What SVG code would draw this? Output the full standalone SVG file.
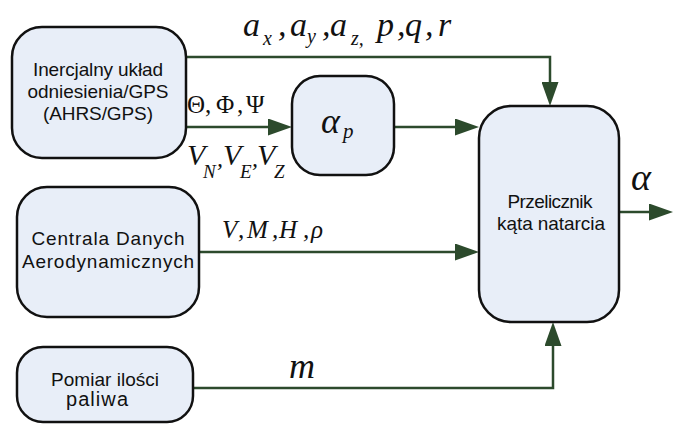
<svg xmlns="http://www.w3.org/2000/svg" width="673" height="424" viewBox="0 0 673 424">
  <style>
    .box { fill: #e8eef8; stroke: #111; stroke-width: 2.5; }
    .lbl { font-family: "Liberation Sans", Arial, sans-serif; font-size: 19px; fill: #111; text-anchor: middle; }
    .conn { fill: none; stroke: #2c4a2c; stroke-width: 2.5; marker-end: url(#arrow); }
    .m { font-family: "Liberation Serif", "Times New Roman", serif; font-style: italic; font-size: 30px; fill: #111; }
    .s { font-size: 20px; }
    .up { font-family: "Liberation Serif", "Times New Roman", serif; font-size: 25px; fill: #111; }
  </style>
  <defs>
    <marker id="arrow" markerUnits="userSpaceOnUse" viewBox="0 0 24 17" markerWidth="24" markerHeight="17" refX="2" refY="8.5" orient="auto">
      <path d="M0,0 L24,8.5 L0,17 Z" fill="#2c4a2c"/>
    </marker>
  </defs>

  <!-- connectors -->
  <g id="connectors">
    <path class="conn" d="M186,57 H550 V84"/>
    <path class="conn" d="M186,127 H270"/>
    <path class="conn" d="M394,127 H457"/>
    <path class="conn" d="M199,252 H457"/>
    <path class="conn" d="M193,388 H553 V344"/>
    <path class="conn" d="M620,212 H651"/>
  </g>

  <!-- signal labels -->
  <g id="signal-labels">
    <text class="m" style="font-size:34px"><tspan x="243" y="36">a</tspan><tspan class="s" x="263" y="45">x</tspan><tspan x="278" y="36">,</tspan><tspan x="290" y="36">a</tspan><tspan class="s" x="307" y="43">y</tspan><tspan x="322" y="36">,</tspan><tspan x="330" y="36">a</tspan><tspan class="s" x="351" y="45">z,</tspan><tspan x="377" y="36">p</tspan><tspan x="397" y="36">,</tspan><tspan x="405" y="36">q</tspan><tspan x="425" y="36">,</tspan><tspan x="438" y="36">r</tspan></text>
    <text class="up"><tspan x="187" y="113">Θ</tspan><tspan x="205" y="113">,</tspan><tspan x="216" y="113">Φ</tspan><tspan x="237" y="113">,</tspan><tspan x="246" y="113">Ψ</tspan></text>
    <text class="m"><tspan x="187" y="165">V</tspan><tspan class="s" style="font-size:19px" x="203" y="178">N</tspan><tspan style="font-size:24px" x="217" y="166">,</tspan><tspan x="223" y="165">V</tspan><tspan class="s" style="font-size:19px" x="240" y="178">E</tspan><tspan style="font-size:24px" x="252" y="166">,</tspan><tspan x="257" y="165">V</tspan><tspan class="s" style="font-size:19px" x="274" y="178">Z</tspan></text>
    <text class="m" style="font-size:25px"><tspan x="222" y="238">V</tspan><tspan x="238" y="238">,</tspan><tspan x="247" y="238">M</tspan><tspan x="272" y="238">,</tspan><tspan x="279" y="238">H</tspan><tspan x="303" y="238">,</tspan><tspan x="311" y="238">ρ</tspan></text>
    <text class="m" style="font-size:36px" x="289" y="378">m</text>
    <text class="m" style="font-size:38px" x="631" y="190">α</text>
  </g>

  <!-- nodes -->
  <g id="ahrs">
    <rect class="box" x="12" y="27" width="174" height="131" rx="30" ry="30"/>
    <text class="lbl" x="98" y="76" textLength="130" lengthAdjust="spacing">Inercjalny układ</text>
    <text class="lbl" x="98" y="98" textLength="141" lengthAdjust="spacing">odniesienia/GPS</text>
    <text class="lbl" x="98" y="120" textLength="110" lengthAdjust="spacing">(AHRS/GPS)</text>
  </g>

  <g id="alpha-p">
    <rect class="box" x="292" y="76" width="102" height="99" rx="28" ry="28"/>
    <text class="m" style="font-size:36px"><tspan x="321" y="133">α</tspan><tspan class="s" style="font-size:21px" x="343" y="138">p</tspan></text>
  </g>

  <g id="adc">
    <rect class="box" x="17" y="187" width="182" height="130" rx="30" ry="30"/>
    <text class="lbl" x="108" y="245" textLength="153" lengthAdjust="spacing">Centrala Danych</text>
    <text class="lbl" x="108" y="268" textLength="172" lengthAdjust="spacing">Aerodynamicznych</text>
  </g>

  <g id="fuel">
    <rect class="box" x="17" y="347" width="176" height="75" rx="26" ry="26"/>
    <text class="lbl" x="105" y="386" textLength="108" lengthAdjust="spacing">Pomiar ilości</text>
    <text class="lbl" style="font-size:20px" x="97" y="406" textLength="62" lengthAdjust="spacing">paliwa</text>
  </g>

  <g id="aoa-calc">
    <rect class="box" x="479" y="106" width="140" height="216" rx="32" ry="32"/>
    <text class="lbl" x="550" y="208" textLength="85" lengthAdjust="spacing">Przelicznik</text>
    <text class="lbl" x="551" y="230" textLength="108" lengthAdjust="spacing">kąta natarcia</text>
  </g>
</svg>
